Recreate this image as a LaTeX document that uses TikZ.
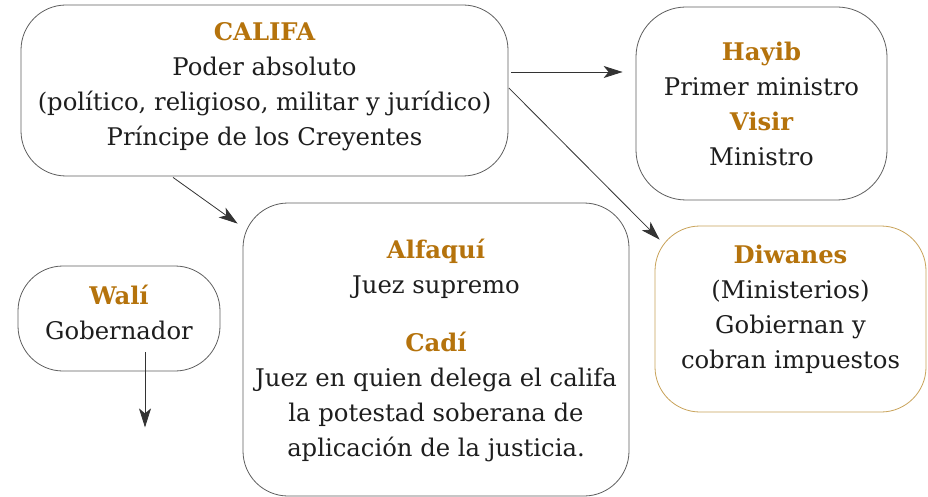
\documentclass[tikz,border=0pt]{standalone}
\usepackage{fontspec}
\setmainfont{DejaVu Serif}
\usetikzlibrary{arrows.meta,calc}
\definecolor{headcol}{HTML}{B5730C}
\definecolor{txtcol}{HTML}{1E1E1E}
\definecolor{edgecol}{HTML}{5E5E5E}
\definecolor{goldedge}{HTML}{C9A35A}
\definecolor{arrcol}{HTML}{333333}
\newcommand\hd[1]{{\bfseries\color{headcol}#1}}
\begin{document}
\begin{tikzpicture}[x=1pt,y=-1pt,
  box/.style={draw=edgecol, line width=0.8pt, rounded corners=45pt, inner sep=0pt, fill=white},
  lbl/.style={align=center, text=txtcol, font=\fontsize{24.3}{35}\selectfont, inner sep=0pt},
  conn/.style={draw=arrcol, line width=0.8pt, -{Stealth[length=19pt,width=12pt,inset=5pt]}, arrcol}
]
\useasboundingbox[fill=white] (0,0) rectangle (928,497);
% boxes
\node[box, minimum width=487pt, minimum height=171pt] (califa) at (264.5,90.5) {};
\node[box, rounded corners=50pt, minimum width=251pt, minimum height=193pt] (hayib) at (761.5,103.5) {};
\node[box, minimum width=386pt, minimum height=293pt] (alfaqui) at (436,349.5) {};
\node[box, draw=goldedge, minimum width=271pt, minimum height=186pt] (diwanes) at (790.5,319) {};
\node[box, minimum width=202pt, minimum height=105pt] (wali) at (119,318.5) {};
% texts
\node[lbl] (califaT) at (264.5,87) {\hd{CALIFA}\\Poder absoluto\\(político, religioso, militar y jurídico)\\Príncipe de los Creyentes};
\node[lbl] (hayibT) at (761.5,104) {\hd{Hayib}\\Primer ministro\\\hd{Visir}\\Ministro};
\node[lbl] (alfaquiT) at (436,350) {\hd{Alfaquí}\\Juez supremo\\[23pt]\hd{Cadí}\\Juez en quien delega el califa\\la potestad soberana de\\aplicación de la justicia.};
\node[lbl] (diwanesT) at (790.5,309) {\hd{Diwanes}\\(Ministerios)\\Gobiernan y\\cobran impuestos};
\node[lbl] (waliT) at (119,312) {\hd{Walí}\\Gobernador};
% connectors
\coordinate (waliEnd) at ($(wali.south)+(26,56)$);
\draw[conn] ($(califa.east)+(3,-18.5)$) -- ($(hayib.west)+(-13,-31.5)$);
\draw[conn] ($(califa.east)+(0.5,-2.5)$) -- ($(diwanes.north west)+(5,14)$);
\draw[conn] ($(califa.south)+(-91.5,1)$) -- ($(alfaqui.north west)+(-5,21)$);
\draw[conn] ($(wali.center)+(26,33.5)$) -- (waliEnd);
\end{tikzpicture}
\end{document}
